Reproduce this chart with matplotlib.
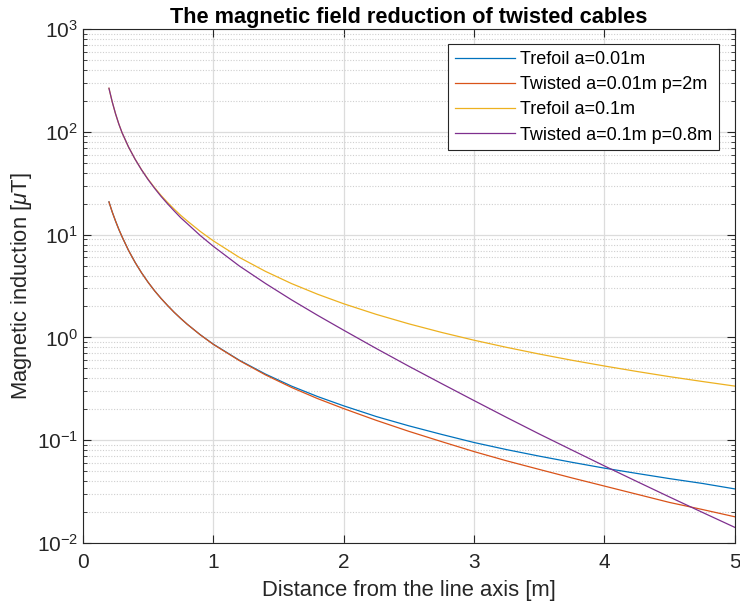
import numpy as np
import matplotlib.pyplot as plt
from matplotlib.ticker import LogLocator, NullFormatter

plt.rcParams['font.family'] = ['Liberation Sans', 'DejaVu Sans']
plt.rcParams['mathtext.fontset'] = 'custom'
plt.rcParams['mathtext.rm'] = 'Liberation Sans'
plt.rcParams['mathtext.it'] = 'Liberation Sans:italic'
plt.rcParams['axes.unicode_minus'] = False

# distance from line axis [m]
dist = [0.2, 0.225, 0.25, 0.275, 0.3, 0.35, 0.4, 0.45, 0.5, 0.55, 0.6, 0.65, 0.7, 0.75, 0.8, 0.9, 1.0,
        1.2, 1.4, 1.6, 1.8, 2.0, 2.25, 2.5, 2.75, 3.0, 3.25, 3.5, 3.75, 4.0, 4.25, 4.5, 4.75, 5.0]

# magnetic induction [uT]
trefoil_001 = [20.8, 16.6, 13.6, 11.3, 9.56, 7.02, 5.38, 4.25, 3.44, 2.84, 2.39, 2.04, 1.755, 1.53, 1.344,
               1.062, 0.86, 0.6, 0.44, 0.336, 0.266, 0.216, 0.17, 0.138, 0.114, 0.095, 0.081, 0.07,
               0.061, 0.0535, 0.0475, 0.0423, 0.038, 0.0336]
twisted_001 = [20.8, 16.6, 13.6, 11.3, 9.56, 7.02, 5.38, 4.25, 3.44, 2.84, 2.39, 2.04, 1.755, 1.53, 1.343,
               1.06, 0.856, 0.595, 0.432, 0.326, 0.254, 0.203, 0.156, 0.122, 0.097, 0.0775, 0.063, 0.052,
               0.043, 0.0358, 0.0298, 0.0248, 0.0212, 0.018]
trefoil_01 = [265, 195.6, 150.4, 119.7, 98.3, 71.2, 54.3, 42.8, 34.6, 28.6, 24.0, 20.5, 17.7, 15.4, 13.6,
              10.74, 8.7, 6.0, 4.39, 3.34, 2.63, 2.125, 1.675, 1.355, 1.119, 0.939, 0.8, 0.689,
              0.5995, 0.527, 0.466, 0.415, 0.3727, 0.336]
twisted_01 = [265, 195.6, 150.4, 119.7, 98.3, 71.2, 54.2, 42.6, 34.3, 28.2, 23.5, 19.9, 17.0, 14.6, 12.8,
              9.8, 7.7, 4.95, 3.35, 2.32, 1.64, 1.175, 0.78, 0.524, 0.356, 0.243, 0.1665, 0.115,
              0.0803, 0.0562, 0.0396, 0.028, 0.0199, 0.0142]

labels = ['Trefoil a=0.01m', 'Twisted a=0.01m p=2m', 'Trefoil a=0.1m', 'Twisted a=0.1m p=0.8m']
colors = ['#0072BD', '#D95319', '#EDB120', '#7E2F8E']

fig = plt.figure(figsize=(7.4, 6.1), dpi=100)
ax = fig.add_axes([0.112, 0.1098, 0.881, 0.8427])

for y, lab, c in zip([trefoil_001, twisted_001, trefoil_01, twisted_01], labels, colors):
    ax.plot(dist, y, color=c, lw=0.9, label=lab)

ax.set_yscale('log')
ax.set_xlim(0, 5)
ax.set_ylim(1e-2, 1e3)
ax.set_xticks([0, 1, 2, 3, 4, 5])
ax.yaxis.set_major_locator(LogLocator(base=10, numticks=10))
ax.yaxis.set_minor_locator(LogLocator(base=10, subs=np.arange(2, 10), numticks=20))
ax.yaxis.set_minor_formatter(NullFormatter())

ax.grid(True, which='major', color='#dcdcdc', lw=0.9, ls='-')
ax.grid(True, which='minor', axis='y', color='#cfcfcf', lw=0.8, ls=(0, (1, 1.5)))
ax.set_axisbelow(True)

for s in ax.spines.values():
    s.set_color('#262626')
    s.set_linewidth(0.8)
ax.tick_params(which='both', direction='in', top=True, right=True, colors='#262626',
               labelsize=15, labelcolor='#262626')
ax.tick_params(which='major', length=6)
ax.tick_params(which='minor', length=3)
ax.tick_params(axis='x', pad=7)

ax.set_xlabel('Distance from the line axis [m]', fontsize=15.8, color='#262626', labelpad=6)
ax.set_ylabel(r'Magnetic induction [$\mu$T]', fontsize=15.8, color='#262626', labelpad=2)
ax.set_title('The magnetic field reduction of twisted cables', fontsize=15.7, fontweight='bold', pad=4)

leg = ax.legend(loc='upper right', fontsize=13, fancybox=False, framealpha=1,
                edgecolor='#262626', handlelength=3.3, borderaxespad=0.85,
                handletextpad=0.33, labelspacing=0.45, borderpad=0.38)
leg.get_frame().set_linewidth(0.8)

fig.savefig('out.png', dpi=100)
